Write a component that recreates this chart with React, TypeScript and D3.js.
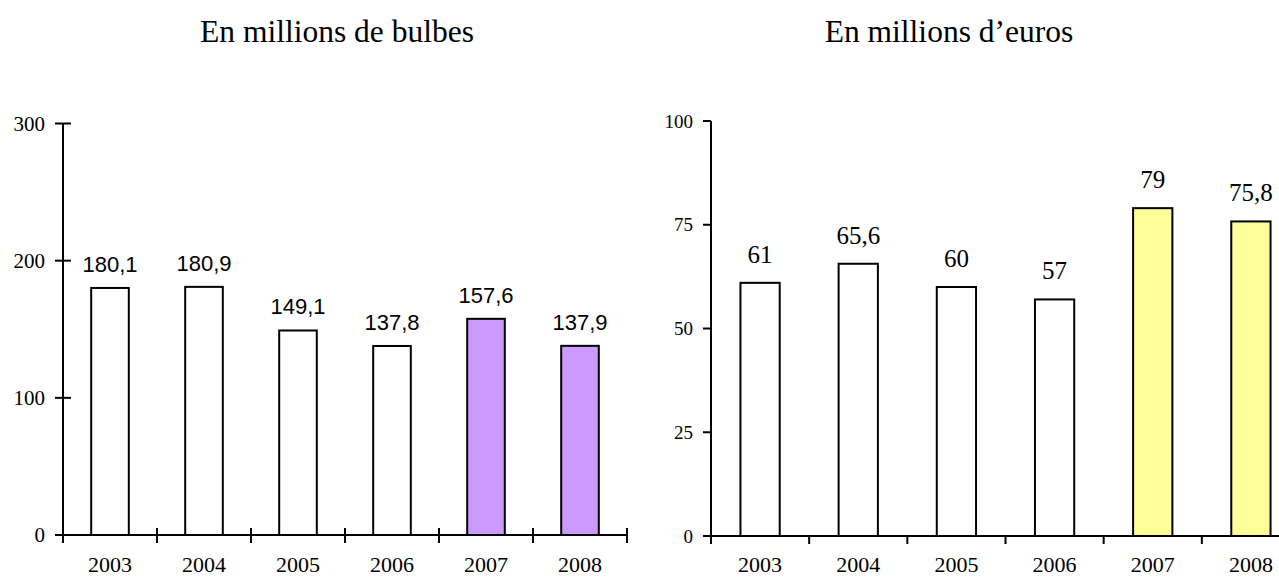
import React from "react";
import * as d3 from "d3";

const years = ["2003", "2004", "2005", "2006", "2007", "2008"];
const bulbes = [180.1, 180.9, 149.1, 137.8, 157.6, 137.9];
const euros = [61, 65.6, 60, 57, 79, 75.8];
const bulbesTicks = [0, 100, 200, 300];
const eurosTicks = [0, 25, 50, 75, 100];
const highlightYears = ["2007", "2008"];
const titleLeft = "En millions de bulbes";
const titleRight = "En millions d\u2019euros";

const fmt = (v: number) => String(v).replace(".", ",");

const SERIF = "'Liberation Serif', 'Times New Roman', serif";
const SANS = "'Liberation Sans', Arial, sans-serif";

type PanelProps = {
  values: number[];
  ticks: number[];
  max: number;
  x0: number;
  x1: number;
  yTop: number;
  yBottom: number;
  fill: string;
  crossTicks: boolean;
  valueFont: string;
  valueSize: number;
  tickSize: number;
  labelGap: number;
  title: string;
  titleX: number;
};

function Panel(p: PanelProps) {
  const xb = d3.scaleBand<string>().domain(years).range([p.x0, p.x1]);
  const y = d3.scaleLinear().domain([0, p.max]).range([p.yBottom, p.yTop]);
  const tl = 8;
  const barW = xb.bandwidth() * 0.4;
  return (
    <g>
      <text x={p.titleX} y={42} textAnchor="middle" fontFamily={SERIF} fontSize={31.5} fill="#000">
        {p.title}
      </text>
      {p.values.map((v, i) => {
        const cx = (xb(years[i]) as number) + xb.bandwidth() / 2;
        return (
          <rect
            key={"b" + i}
            x={cx - barW / 2}
            y={y(v)}
            width={barW}
            height={y(0) - y(v)}
            fill={highlightYears.includes(years[i]) ? p.fill : "#fff"}
            stroke="#000"
            strokeWidth={2}
          />
        );
      })}
      {p.values.map((v, i) => {
        const cx = (xb(years[i]) as number) + xb.bandwidth() / 2;
        return (
          <text
            key={"l" + i}
            x={cx}
            y={y(v) - p.labelGap}
            textAnchor="middle"
            fontFamily={p.valueFont}
            fontSize={p.valueSize}
            fill="#000"
          >
            {fmt(v)}
          </text>
        );
      })}
      <line x1={p.x0} x2={p.x0} y1={y(p.max)} y2={y(0)} stroke="#000" strokeWidth={2} />
      {p.ticks.map((t) => (
        <g key={"yt" + t}>
          <line
            x1={p.x0 - tl}
            x2={p.crossTicks ? p.x0 + tl : p.x0}
            y1={y(t)}
            y2={y(t)}
            stroke="#000"
            strokeWidth={2}
          />
          <text
            x={p.x0 - 18}
            y={y(t)}
            dy="0.35em"
            textAnchor="end"
            fontFamily={SERIF}
            fontSize={p.tickSize}
            fill="#000"
          >
            {t}
          </text>
        </g>
      ))}
      <line x1={p.x0} x2={p.x1} y1={y(0)} y2={y(0)} stroke="#000" strokeWidth={2} />
      {years.map((yr) => (
        <line
          key={"xt" + yr}
          x1={xb(yr) as number}
          x2={xb(yr) as number}
          y1={p.crossTicks ? y(0) - 7 : y(0)}
          y2={y(0) + 8}
          stroke="#000"
          strokeWidth={2}
        />
      ))}
      <line x1={p.x1} x2={p.x1} y1={p.crossTicks ? y(0) - 7 : y(0)} y2={y(0) + 8} stroke="#000" strokeWidth={2} />
      {years.map((yr) => (
        <text
          key={"xl" + yr}
          x={(xb(yr) as number) + xb.bandwidth() / 2}
          y={572}
          textAnchor="middle"
          fontFamily={SERIF}
          fontSize={22}
          fill="#000"
        >
          {yr}
        </text>
      ))}
    </g>
  );
}

export default function App() {
  return (
    <svg
      width={1279}
      height={577}
      style={{ position: "absolute", left: 0, top: 0, background: "#fff" }}
    >
      <rect x={0} y={0} width={1279} height={577} fill="#fff" />
      <Panel
        values={bulbes}
        ticks={bulbesTicks}
        max={300}
        x0={63}
        x1={627}
        yTop={123.5}
        yBottom={535}
        fill="#CC99FF"
        crossTicks={true}
        valueFont={SANS}
        valueSize={22}
        tickSize={21}
        labelGap={16}
        title={titleLeft}
        titleX={337}
      />
      <Panel
        values={euros}
        ticks={eurosTicks}
        max={100}
        x0={711}
        x1={1300}
        yTop={121}
        yBottom={536}
        fill="#FFFF99"
        crossTicks={false}
        valueFont={SERIF}
        valueSize={25}
        tickSize={19}
        labelGap={20}
        title={titleRight}
        titleX={949}
      />
    </svg>
  );
}
